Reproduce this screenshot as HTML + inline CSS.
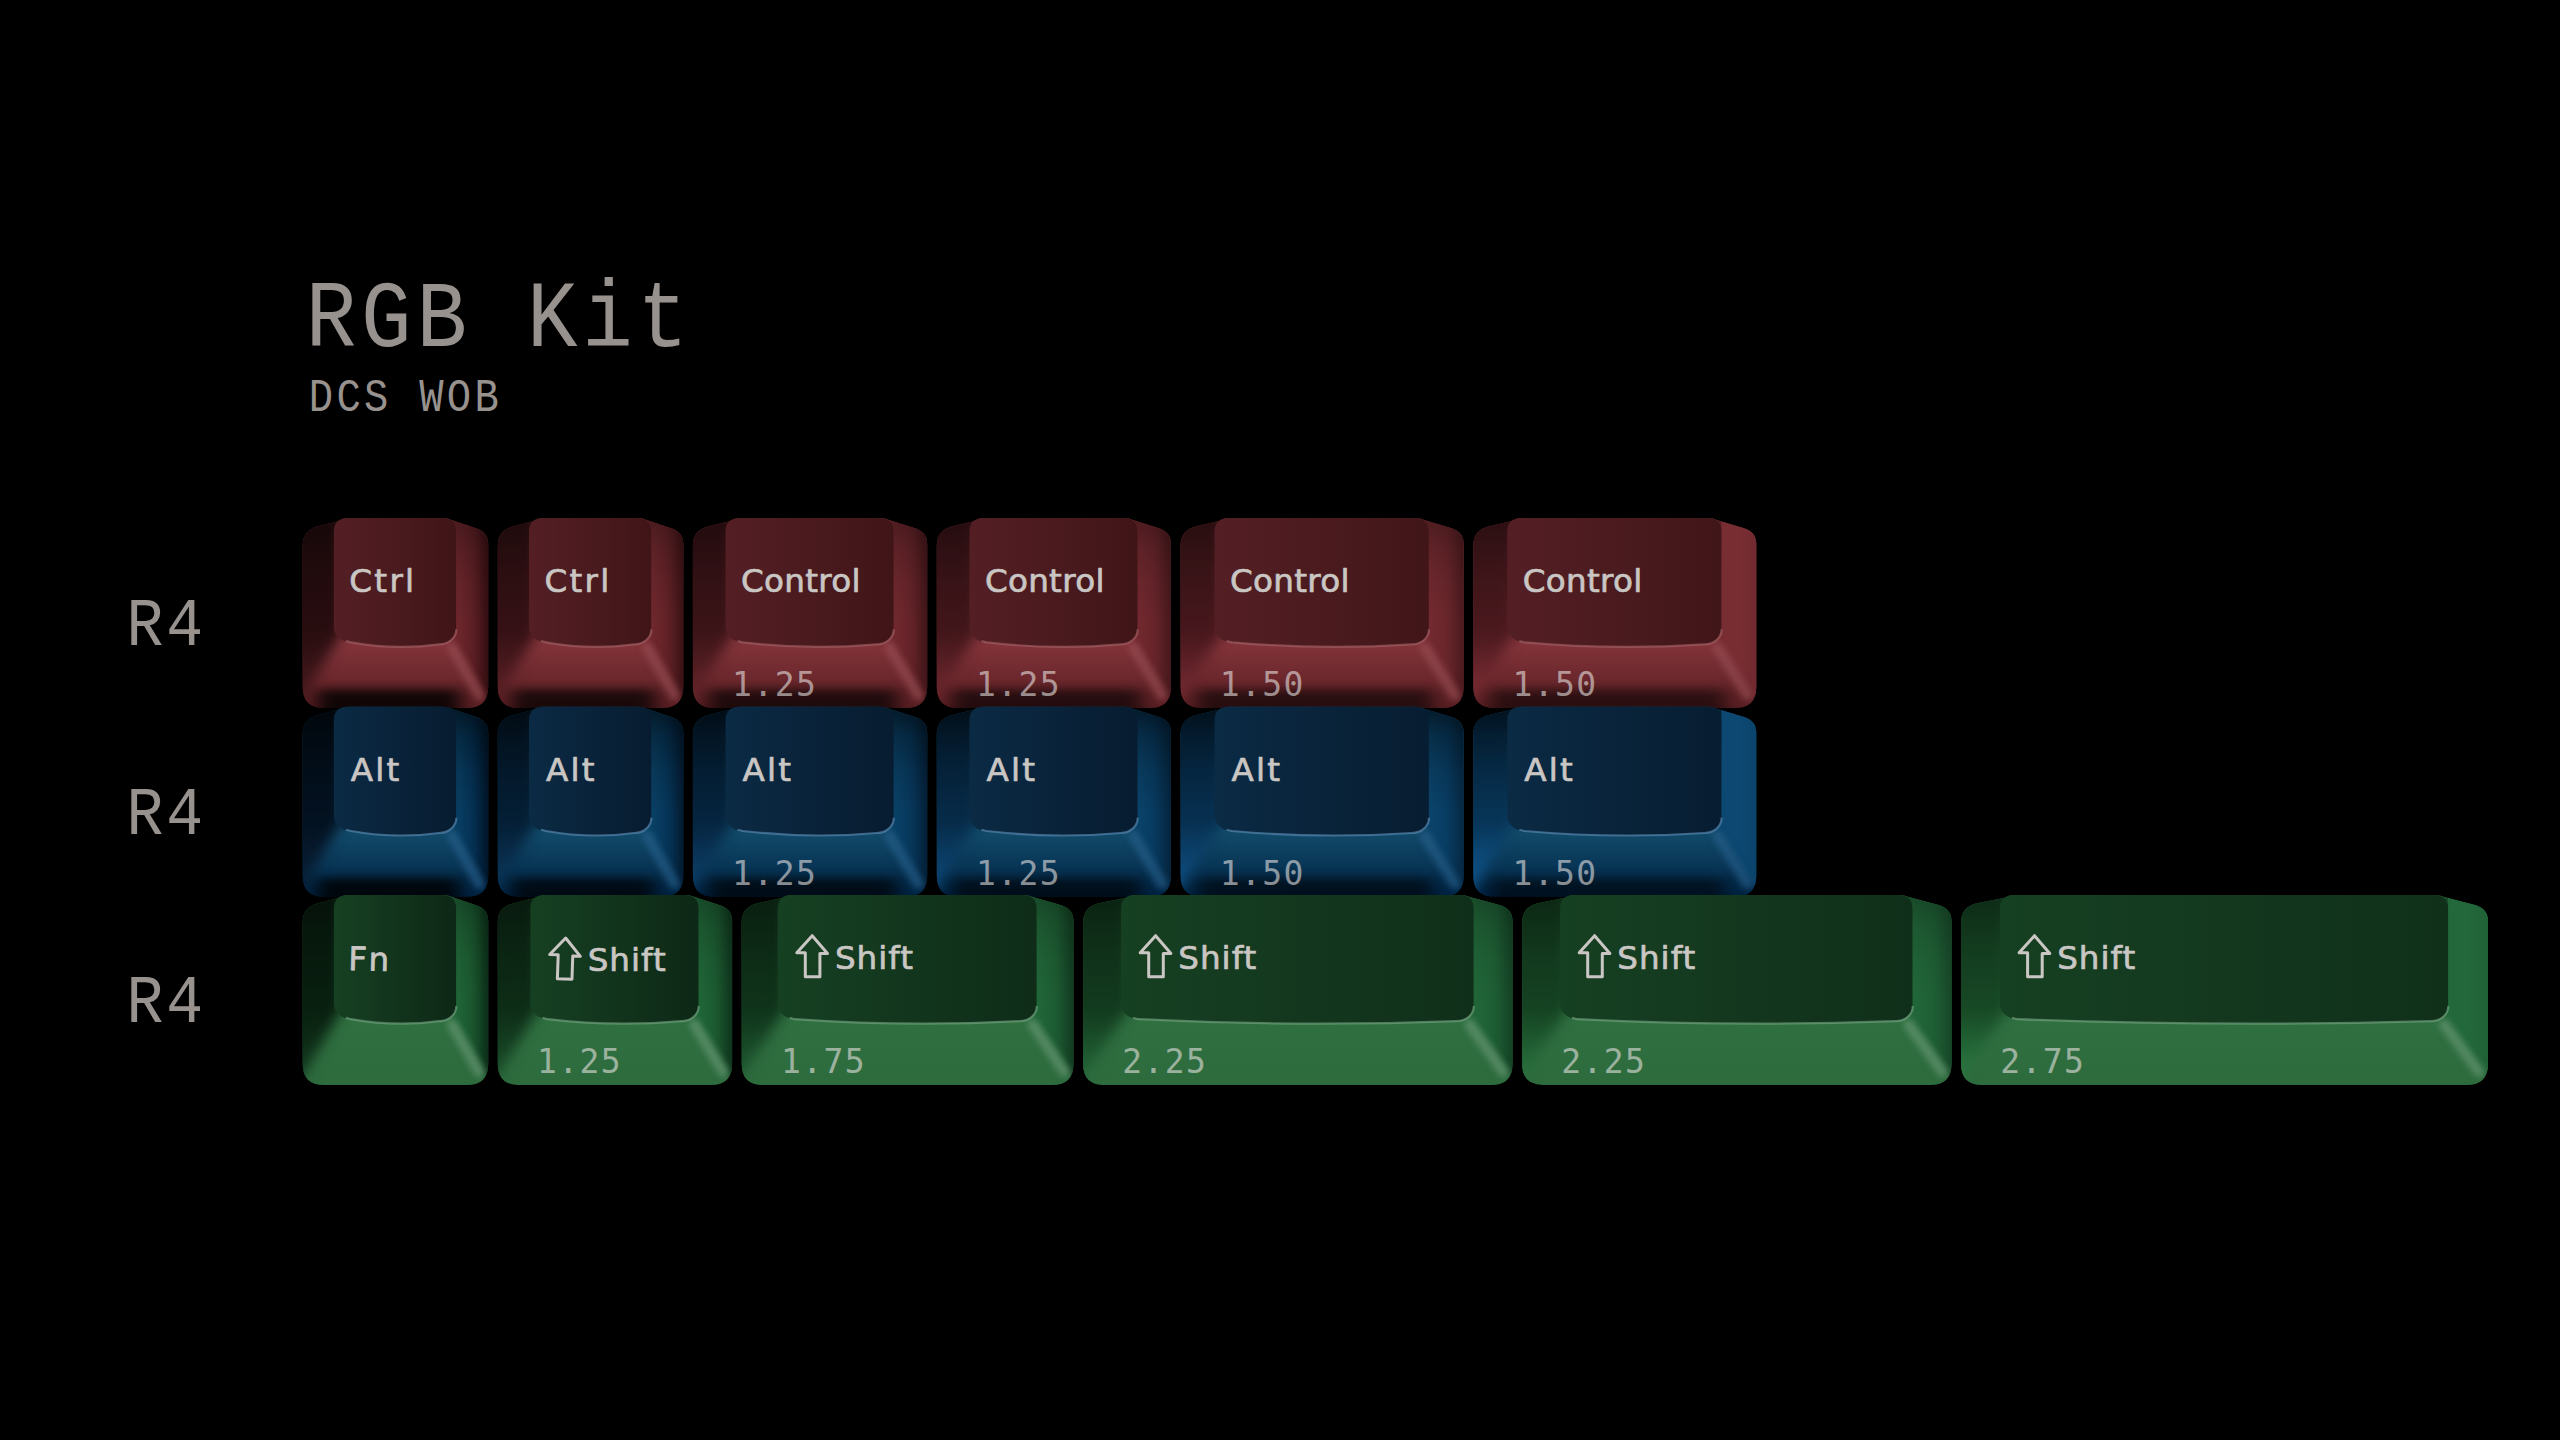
<!DOCTYPE html>
<html lang="en"><head><meta charset="utf-8"><title>RGB Kit - DCS WOB</title>
<style>
html,body{margin:0;padding:0;background:#000;width:2560px;height:1440px;overflow:hidden}
svg{display:block}
text{font-family:"Liberation Mono",monospace;fill:#98928f}
.lg{font-family:"DejaVu Sans","Liberation Sans",sans-serif;font-size:32.6px;stroke-width:.7px;fill:#c9c6c3;stroke:#c9c6c3;stroke-linejoin:round}
.sz{font-family:"DejaVu Sans Mono","Liberation Mono",monospace;font-size:33px;fill:#e6e2e0;fill-opacity:.6;letter-spacing:1.4px}
</style></head>
<body>
<svg width="2560" height="1440" viewBox="0 0 2560 1440">
<defs>
<filter id="bl" color-interpolation-filters="sRGB" x="-20%" y="-10%" width="140%" height="120%"><feGaussianBlur stdDeviation="3.5"/></filter>
<filter id="bl2" color-interpolation-filters="sRGB" x="-40%" y="-15%" width="180%" height="130%"><feGaussianBlur stdDeviation="6.5"/></filter>
<filter id="b1" color-interpolation-filters="sRGB" x="-5%" y="-50%" width="110%" height="200%"><feGaussianBlur stdDeviation="0.7"/></filter>
<filter id="b3" color-interpolation-filters="sRGB" x="-50%" y="-50%" width="200%" height="200%"><feGaussianBlur stdDeviation="3"/></filter>
<filter id="sh" color-interpolation-filters="sRGB" x="-30%" y="-60%" width="160%" height="220%"><feGaussianBlur stdDeviation="9 5"/></filter>
<linearGradient id="fr0" gradientUnits="userSpaceOnUse" x1="0" y1="646.1" x2="0" y2="708.1"><stop offset="0" stop-color="#813339"/><stop offset="1" stop-color="#581e22"/></linearGradient>
<linearGradient id="egr0" gradientUnits="userSpaceOnUse" x1="0" y1="531.1" x2="0" y2="629.1"><stop offset="0" stop-color="#a56468" stop-opacity=".12"/><stop offset=".7" stop-color="#a56468" stop-opacity=".25"/><stop offset="1" stop-color="#a56468" stop-opacity=".55"/></linearGradient>
<linearGradient id="ts0" gradientUnits="userSpaceOnUse" x1="0" y1="522.1" x2="0" y2="622.1"><stop offset="0" stop-color="#000" stop-opacity="0.3"/><stop offset=".25" stop-color="#000" stop-opacity="0.17"/><stop offset=".6" stop-color="#000" stop-opacity="0.06"/><stop offset="1" stop-color="#000" stop-opacity="0"/></linearGradient>
<linearGradient id="sg0" gradientUnits="userSpaceOnUse" x1="0" y1="676.1" x2="0" y2="708.1"><stop offset="0" stop-color="#000" stop-opacity="0"/><stop offset=".22" stop-color="#000" stop-opacity=".22"/><stop offset=".53" stop-color="#000" stop-opacity=".86"/><stop offset=".82" stop-color="#000" stop-opacity=".9"/><stop offset=".94" stop-color="#000" stop-opacity=".6"/><stop offset="1" stop-color="#000" stop-opacity=".5"/></linearGradient>
<clipPath id="c0"><path d="M302.7 546.1C302.7 534.1 308.7 528.6 319.7 526.1L338.9 520.9Q342.9 518.1 347.9 518.1L442.1 518.1Q448.1 518.1 452.1 520.3L475.2 528.1C483.2 530.4 488.2 535.1 488.2 544.1L488.2 687.1Q488.2 708.1 467.2 708.1L323.7 708.1Q302.7 708.1 302.7 687.1Z"/></clipPath>
<linearGradient id="t0" gradientUnits="userSpaceOnUse" x1="333.9" y1="0" x2="456.1" y2="0"><stop offset="0" stop-color="#541f24"/><stop offset="1" stop-color="#401518"/></linearGradient>
<linearGradient id="l0" gradientUnits="userSpaceOnUse" x1="0" y1="538.1" x2="0" y2="708.1"><stop offset="0" stop-color="#210b0d"/><stop offset=".55" stop-color="#280d0f"/><stop offset="1" stop-color="#4c1c21"/></linearGradient>
<linearGradient id="r0" gradientUnits="userSpaceOnUse" x1="456.1" y1="0" x2="488.2" y2="0"><stop offset="0" stop-color="#6e272d"/><stop offset=".55" stop-color="#5c1f24"/><stop offset="1" stop-color="#310d10"/></linearGradient>
<clipPath id="c1"><path d="M497.8 546.1C497.8 534.1 503.8 528.6 514.8 526.1L534 520.9Q538 518.1 543 518.1L637.2 518.1Q643.2 518.1 647.2 520.3L670.3 528.1C678.3 530.4 683.3 535.1 683.3 544.1L683.3 687.1Q683.3 708.1 662.3 708.1L518.8 708.1Q497.8 708.1 497.8 687.1Z"/></clipPath>
<linearGradient id="t1" gradientUnits="userSpaceOnUse" x1="529" y1="0" x2="651.2" y2="0"><stop offset="0" stop-color="#541f24"/><stop offset="1" stop-color="#401518"/></linearGradient>
<linearGradient id="l1" gradientUnits="userSpaceOnUse" x1="0" y1="538.1" x2="0" y2="708.1"><stop offset="0" stop-color="#2c0f11"/><stop offset=".55" stop-color="#351115"/><stop offset="1" stop-color="#63242a"/></linearGradient>
<linearGradient id="r1" gradientUnits="userSpaceOnUse" x1="651.2" y1="0" x2="683.3" y2="0"><stop offset="0" stop-color="#70282e"/><stop offset=".55" stop-color="#602126"/><stop offset="1" stop-color="#381114"/></linearGradient>
<clipPath id="c2"><path d="M692.9 546.1C692.9 534.1 698.9 528.6 709.9 526.1L730.6 520.9Q734.6 518.1 739.6 518.1L879.6 518.1Q885.6 518.1 889.6 520.3L914.2 528.1C922.2 530.4 927.2 535.1 927.2 544.1L927.2 687.1Q927.2 708.1 906.2 708.1L713.9 708.1Q692.9 708.1 692.9 687.1Z"/></clipPath>
<linearGradient id="t2" gradientUnits="userSpaceOnUse" x1="725.6" y1="0" x2="893.6" y2="0"><stop offset="0" stop-color="#541f24"/><stop offset="1" stop-color="#401518"/></linearGradient>
<linearGradient id="l2" gradientUnits="userSpaceOnUse" x1="0" y1="538.1" x2="0" y2="708.1"><stop offset="0" stop-color="#311014"/><stop offset=".55" stop-color="#3b1417"/><stop offset="1" stop-color="#6e282f"/></linearGradient>
<linearGradient id="r2" gradientUnits="userSpaceOnUse" x1="893.6" y1="0" x2="927.2" y2="0"><stop offset="0" stop-color="#71292f"/><stop offset=".55" stop-color="#642328"/><stop offset="1" stop-color="#3e1418"/></linearGradient>
<clipPath id="c3"><path d="M936.8 546.1C936.8 534.1 942.8 528.6 953.8 526.1L974.5 520.9Q978.5 518.1 983.5 518.1L1123.5 518.1Q1129.5 518.1 1133.5 520.3L1158 528.1C1166 530.4 1171 535.1 1171 544.1L1171 687.1Q1171 708.1 1150 708.1L957.8 708.1Q936.8 708.1 936.8 687.1Z"/></clipPath>
<linearGradient id="t3" gradientUnits="userSpaceOnUse" x1="969.5" y1="0" x2="1137.5" y2="0"><stop offset="0" stop-color="#541f24"/><stop offset="1" stop-color="#401518"/></linearGradient>
<linearGradient id="l3" gradientUnits="userSpaceOnUse" x1="0" y1="538.1" x2="0" y2="708.1"><stop offset="0" stop-color="#361216"/><stop offset=".55" stop-color="#41161a"/><stop offset="1" stop-color="#782c33"/></linearGradient>
<linearGradient id="r3" gradientUnits="userSpaceOnUse" x1="1137.5" y1="0" x2="1171" y2="0"><stop offset="0" stop-color="#72292f"/><stop offset=".55" stop-color="#66242a"/><stop offset="1" stop-color="#43171a"/></linearGradient>
<clipPath id="c4"><path d="M1180.6 546.1C1180.6 534.1 1186.6 528.6 1197.6 526.1L1219.6 520.9Q1223.6 518.1 1228.6 518.1L1414.8 518.1Q1420.8 518.1 1424.8 520.3L1450.7 528.1C1458.7 530.4 1463.7 535.1 1463.7 544.1L1463.7 687.1Q1463.7 708.1 1442.7 708.1L1201.6 708.1Q1180.6 708.1 1180.6 687.1Z"/></clipPath>
<linearGradient id="t4" gradientUnits="userSpaceOnUse" x1="1214.6" y1="0" x2="1428.8" y2="0"><stop offset="0" stop-color="#541f24"/><stop offset="1" stop-color="#411619"/></linearGradient>
<linearGradient id="l4" gradientUnits="userSpaceOnUse" x1="0" y1="538.1" x2="0" y2="708.1"><stop offset="0" stop-color="#3a1417"/><stop offset=".55" stop-color="#46171c"/><stop offset="1" stop-color="#802f37"/></linearGradient>
<linearGradient id="r4" gradientUnits="userSpaceOnUse" x1="1428.8" y1="0" x2="1463.7" y2="0"><stop offset="0" stop-color="#732a30"/><stop offset=".55" stop-color="#69262b"/><stop offset="1" stop-color="#48191d"/></linearGradient>
<clipPath id="c5"><path d="M1473.3 546.1C1473.3 534.1 1479.3 528.6 1490.3 526.1L1512.3 520.9Q1516.3 518.1 1521.3 518.1L1707.4 518.1Q1713.4 518.1 1717.4 520.3L1743.3 528.1C1751.3 530.4 1756.3 535.1 1756.3 544.1L1756.3 687.1Q1756.3 708.1 1735.3 708.1L1494.3 708.1Q1473.3 708.1 1473.3 687.1Z"/></clipPath>
<linearGradient id="t5" gradientUnits="userSpaceOnUse" x1="1507.3" y1="0" x2="1721.4" y2="0"><stop offset="0" stop-color="#541f24"/><stop offset="1" stop-color="#411619"/></linearGradient>
<linearGradient id="l5" gradientUnits="userSpaceOnUse" x1="0" y1="538.1" x2="0" y2="708.1"><stop offset="0" stop-color="#3e1519"/><stop offset=".55" stop-color="#4a191e"/><stop offset="1" stop-color="#88323a"/></linearGradient>
<linearGradient id="r5" gradientUnits="userSpaceOnUse" x1="1721.4" y1="0" x2="1756.3" y2="0"><stop offset="0" stop-color="#782d33"/><stop offset=".55" stop-color="#782d33"/><stop offset="1" stop-color="#702a2f"/></linearGradient>
<linearGradient id="fb1" gradientUnits="userSpaceOnUse" x1="0" y1="834.7" x2="0" y2="896.7"><stop offset="0" stop-color="#114969"/><stop offset="1" stop-color="#002242"/></linearGradient>
<linearGradient id="egb1" gradientUnits="userSpaceOnUse" x1="0" y1="719.7" x2="0" y2="817.7"><stop offset="0" stop-color="#5f8cb4" stop-opacity=".12"/><stop offset=".7" stop-color="#5f8cb4" stop-opacity=".25"/><stop offset="1" stop-color="#5f8cb4" stop-opacity=".55"/></linearGradient>
<linearGradient id="ts1" gradientUnits="userSpaceOnUse" x1="0" y1="710.7" x2="0" y2="810.7"><stop offset="0" stop-color="#000" stop-opacity="0.58"/><stop offset=".25" stop-color="#000" stop-opacity="0.32"/><stop offset=".6" stop-color="#000" stop-opacity="0.12"/><stop offset="1" stop-color="#000" stop-opacity="0"/></linearGradient>
<linearGradient id="sg1" gradientUnits="userSpaceOnUse" x1="0" y1="864.7" x2="0" y2="896.7"><stop offset="0" stop-color="#000" stop-opacity="0"/><stop offset=".22" stop-color="#000" stop-opacity=".22"/><stop offset=".53" stop-color="#000" stop-opacity=".86"/><stop offset=".82" stop-color="#000" stop-opacity=".9"/><stop offset=".94" stop-color="#000" stop-opacity=".6"/><stop offset="1" stop-color="#000" stop-opacity=".5"/></linearGradient>
<clipPath id="c6"><path d="M302.7 734.7C302.7 722.7 308.7 717.2 319.7 714.7L338.9 709.5Q342.9 706.7 347.9 706.7L442.1 706.7Q448.1 706.7 452.1 708.9L475.2 716.7C483.2 719 488.2 723.7 488.2 732.7L488.2 875.7Q488.2 896.7 467.2 896.7L323.7 896.7Q302.7 896.7 302.7 875.7Z"/></clipPath>
<linearGradient id="t6" gradientUnits="userSpaceOnUse" x1="333.9" y1="0" x2="456.1" y2="0"><stop offset="0" stop-color="#0b2a44"/><stop offset="1" stop-color="#071c30"/></linearGradient>
<linearGradient id="l6" gradientUnits="userSpaceOnUse" x1="0" y1="726.7" x2="0" y2="896.7"><stop offset="0" stop-color="#020e1a"/><stop offset=".55" stop-color="#031120"/><stop offset="1" stop-color="#0b243d"/></linearGradient>
<linearGradient id="r6" gradientUnits="userSpaceOnUse" x1="456.1" y1="0" x2="488.2" y2="0"><stop offset="0" stop-color="#094064"/><stop offset=".55" stop-color="#043053"/><stop offset="1" stop-color="#011325"/></linearGradient>
<clipPath id="c7"><path d="M497.8 734.7C497.8 722.7 503.8 717.2 514.8 714.7L534 709.5Q538 706.7 543 706.7L637.2 706.7Q643.2 706.7 647.2 708.9L670.3 716.7C678.3 719 683.3 723.7 683.3 732.7L683.3 875.7Q683.3 896.7 662.3 896.7L518.8 896.7Q497.8 896.7 497.8 875.7Z"/></clipPath>
<linearGradient id="t7" gradientUnits="userSpaceOnUse" x1="529" y1="0" x2="651.2" y2="0"><stop offset="0" stop-color="#0b2a44"/><stop offset="1" stop-color="#071c30"/></linearGradient>
<linearGradient id="l7" gradientUnits="userSpaceOnUse" x1="0" y1="726.7" x2="0" y2="896.7"><stop offset="0" stop-color="#04192c"/><stop offset=".55" stop-color="#041e34"/><stop offset="1" stop-color="#0e3b62"/></linearGradient>
<linearGradient id="r7" gradientUnits="userSpaceOnUse" x1="651.2" y1="0" x2="683.3" y2="0"><stop offset="0" stop-color="#0a4166"/><stop offset=".55" stop-color="#053457"/><stop offset="1" stop-color="#03192e"/></linearGradient>
<clipPath id="c8"><path d="M692.9 734.7C692.9 722.7 698.9 717.2 709.9 714.7L730.6 709.5Q734.6 706.7 739.6 706.7L879.6 706.7Q885.6 706.7 889.6 708.9L914.2 716.7C922.2 719 927.2 723.7 927.2 732.7L927.2 875.7Q927.2 896.7 906.2 896.7L713.9 896.7Q692.9 896.7 692.9 875.7Z"/></clipPath>
<linearGradient id="t8" gradientUnits="userSpaceOnUse" x1="725.6" y1="0" x2="893.6" y2="0"><stop offset="0" stop-color="#0b2a44"/><stop offset="1" stop-color="#071c30"/></linearGradient>
<linearGradient id="l8" gradientUnits="userSpaceOnUse" x1="0" y1="726.7" x2="0" y2="896.7"><stop offset="0" stop-color="#041e34"/><stop offset=".55" stop-color="#05243e"/><stop offset="1" stop-color="#0f4673"/></linearGradient>
<linearGradient id="r8" gradientUnits="userSpaceOnUse" x1="893.6" y1="0" x2="927.2" y2="0"><stop offset="0" stop-color="#0a4268"/><stop offset=".55" stop-color="#07375b"/><stop offset="1" stop-color="#041e35"/></linearGradient>
<clipPath id="c9"><path d="M936.8 734.7C936.8 722.7 942.8 717.2 953.8 714.7L974.5 709.5Q978.5 706.7 983.5 706.7L1123.5 706.7Q1129.5 706.7 1133.5 708.9L1158 716.7C1166 719 1171 723.7 1171 732.7L1171 875.7Q1171 896.7 1150 896.7L957.8 896.7Q936.8 896.7 936.8 875.7Z"/></clipPath>
<linearGradient id="t9" gradientUnits="userSpaceOnUse" x1="969.5" y1="0" x2="1137.5" y2="0"><stop offset="0" stop-color="#0b2a44"/><stop offset="1" stop-color="#071c30"/></linearGradient>
<linearGradient id="l9" gradientUnits="userSpaceOnUse" x1="0" y1="726.7" x2="0" y2="896.7"><stop offset="0" stop-color="#05233b"/><stop offset=".55" stop-color="#062a47"/><stop offset="1" stop-color="#105083"/></linearGradient>
<linearGradient id="r9" gradientUnits="userSpaceOnUse" x1="1137.5" y1="0" x2="1171" y2="0"><stop offset="0" stop-color="#0a436a"/><stop offset=".55" stop-color="#07395e"/><stop offset="1" stop-color="#05233b"/></linearGradient>
<clipPath id="c10"><path d="M1180.6 734.7C1180.6 722.7 1186.6 717.2 1197.6 714.7L1219.6 709.5Q1223.6 706.7 1228.6 706.7L1414.8 706.7Q1420.8 706.7 1424.8 708.9L1450.7 716.7C1458.7 719 1463.7 723.7 1463.7 732.7L1463.7 875.7Q1463.7 896.7 1442.7 896.7L1201.6 896.7Q1180.6 896.7 1180.6 875.7Z"/></clipPath>
<linearGradient id="t10" gradientUnits="userSpaceOnUse" x1="1214.6" y1="0" x2="1428.8" y2="0"><stop offset="0" stop-color="#0b2a44"/><stop offset="1" stop-color="#071d31"/></linearGradient>
<linearGradient id="l10" gradientUnits="userSpaceOnUse" x1="0" y1="726.7" x2="0" y2="896.7"><stop offset="0" stop-color="#052742"/><stop offset=".55" stop-color="#072f4f"/><stop offset="1" stop-color="#115890"/></linearGradient>
<linearGradient id="r10" gradientUnits="userSpaceOnUse" x1="1428.8" y1="0" x2="1463.7" y2="0"><stop offset="0" stop-color="#0b446b"/><stop offset=".55" stop-color="#083c62"/><stop offset="1" stop-color="#062741"/></linearGradient>
<clipPath id="c11"><path d="M1473.3 734.7C1473.3 722.7 1479.3 717.2 1490.3 714.7L1512.3 709.5Q1516.3 706.7 1521.3 706.7L1707.4 706.7Q1713.4 706.7 1717.4 708.9L1743.3 716.7C1751.3 719 1756.3 723.7 1756.3 732.7L1756.3 875.7Q1756.3 896.7 1735.3 896.7L1494.3 896.7Q1473.3 896.7 1473.3 875.7Z"/></clipPath>
<linearGradient id="t11" gradientUnits="userSpaceOnUse" x1="1507.3" y1="0" x2="1721.4" y2="0"><stop offset="0" stop-color="#0b2a44"/><stop offset="1" stop-color="#071d31"/></linearGradient>
<linearGradient id="l11" gradientUnits="userSpaceOnUse" x1="0" y1="726.7" x2="0" y2="896.7"><stop offset="0" stop-color="#062b48"/><stop offset=".55" stop-color="#073456"/><stop offset="1" stop-color="#13609d"/></linearGradient>
<linearGradient id="r11" gradientUnits="userSpaceOnUse" x1="1721.4" y1="0" x2="1756.3" y2="0"><stop offset="0" stop-color="#0c4872"/><stop offset=".55" stop-color="#0c4872"/><stop offset="1" stop-color="#0b436a"/></linearGradient>
<linearGradient id="fg2" gradientUnits="userSpaceOnUse" x1="0" y1="1022.9" x2="0" y2="1084.9"><stop offset="0" stop-color="#2f6f40"/><stop offset="1" stop-color="#2d6b3d"/></linearGradient>
<linearGradient id="egg2" gradientUnits="userSpaceOnUse" x1="0" y1="907.9" x2="0" y2="1005.9"><stop offset="0" stop-color="#78a584" stop-opacity=".12"/><stop offset=".7" stop-color="#78a584" stop-opacity=".25"/><stop offset="1" stop-color="#78a584" stop-opacity=".55"/></linearGradient>
<linearGradient id="ts2" gradientUnits="userSpaceOnUse" x1="0" y1="898.9" x2="0" y2="998.9"><stop offset="0" stop-color="#000" stop-opacity="0.27"/><stop offset=".25" stop-color="#000" stop-opacity="0.15"/><stop offset=".6" stop-color="#000" stop-opacity="0.05"/><stop offset="1" stop-color="#000" stop-opacity="0"/></linearGradient>
<clipPath id="c12"><path d="M302.7 922.9C302.7 910.9 308.7 905.4 319.7 902.9L338.9 897.7Q342.9 894.9 347.9 894.9L442.1 894.9Q448.1 894.9 452.1 897.1L475.2 904.9C483.2 907.2 488.2 911.9 488.2 920.9L488.2 1063.9Q488.2 1084.9 467.2 1084.9L323.7 1084.9Q302.7 1084.9 302.7 1063.9Z"/></clipPath>
<linearGradient id="t12" gradientUnits="userSpaceOnUse" x1="333.9" y1="0" x2="456.1" y2="0"><stop offset="0" stop-color="#164022"/><stop offset="1" stop-color="#0d2816"/></linearGradient>
<linearGradient id="l12" gradientUnits="userSpaceOnUse" x1="0" y1="914.9" x2="0" y2="1084.9"><stop offset="0" stop-color="#07190d"/><stop offset=".55" stop-color="#081f0f"/><stop offset="1" stop-color="#143b21"/></linearGradient>
<linearGradient id="r12" gradientUnits="userSpaceOnUse" x1="456.1" y1="0" x2="488.2" y2="0"><stop offset="0" stop-color="#206638"/><stop offset=".55" stop-color="#1a562e"/><stop offset="1" stop-color="#0a2b16"/></linearGradient>
<clipPath id="c13"><path d="M497.8 922.9C497.8 910.9 503.8 905.4 514.8 902.9L535.5 897.7Q539.5 894.9 544.5 894.9L684.5 894.9Q690.5 894.9 694.5 897.1L719.1 904.9C727.1 907.2 732.1 911.9 732.1 920.9L732.1 1063.9Q732.1 1084.9 711.1 1084.9L518.8 1084.9Q497.8 1084.9 497.8 1063.9Z"/></clipPath>
<linearGradient id="t13" gradientUnits="userSpaceOnUse" x1="530.5" y1="0" x2="698.5" y2="0"><stop offset="0" stop-color="#164022"/><stop offset="1" stop-color="#0d2816"/></linearGradient>
<linearGradient id="l13" gradientUnits="userSpaceOnUse" x1="0" y1="914.9" x2="0" y2="1084.9"><stop offset="0" stop-color="#0b2413"/><stop offset=".55" stop-color="#0d2c16"/><stop offset="1" stop-color="#1c522d"/></linearGradient>
<linearGradient id="r13" gradientUnits="userSpaceOnUse" x1="698.5" y1="0" x2="732.1" y2="0"><stop offset="0" stop-color="#206638"/><stop offset=".55" stop-color="#1b5930"/><stop offset="1" stop-color="#0e321b"/></linearGradient>
<clipPath id="c14"><path d="M741.7 922.9C741.7 910.9 747.7 905.4 758.7 902.9L782.7 897.7Q786.7 894.9 791.7 894.9L1022.6 894.9Q1028.6 894.9 1032.6 897.1L1060.5 904.9C1068.5 907.2 1073.5 911.9 1073.5 920.9L1073.5 1063.9Q1073.5 1084.9 1052.5 1084.9L762.7 1084.9Q741.7 1084.9 741.7 1063.9Z"/></clipPath>
<linearGradient id="t14" gradientUnits="userSpaceOnUse" x1="777.7" y1="0" x2="1036.6" y2="0"><stop offset="0" stop-color="#164022"/><stop offset="1" stop-color="#0e2c18"/></linearGradient>
<linearGradient id="l14" gradientUnits="userSpaceOnUse" x1="0" y1="914.9" x2="0" y2="1084.9"><stop offset="0" stop-color="#0d2a16"/><stop offset=".55" stop-color="#0f331a"/><stop offset="1" stop-color="#215f34"/></linearGradient>
<linearGradient id="r14" gradientUnits="userSpaceOnUse" x1="1036.6" y1="0" x2="1073.5" y2="0"><stop offset="0" stop-color="#216739"/><stop offset=".55" stop-color="#1d5b32"/><stop offset="1" stop-color="#10391f"/></linearGradient>
<clipPath id="c15"><path d="M1083.1 922.9C1083.1 910.9 1089.1 905.4 1100.1 902.9L1126.1 897.7Q1130.1 894.9 1135.1 894.9L1459.6 894.9Q1465.6 894.9 1469.6 897.1L1499.5 904.9C1507.5 907.2 1512.5 911.9 1512.5 920.9L1512.5 1063.9Q1512.5 1084.9 1491.5 1084.9L1104.1 1084.9Q1083.1 1084.9 1083.1 1063.9Z"/></clipPath>
<linearGradient id="t15" gradientUnits="userSpaceOnUse" x1="1121.1" y1="0" x2="1473.6" y2="0"><stop offset="0" stop-color="#164022"/><stop offset="1" stop-color="#102f1a"/></linearGradient>
<linearGradient id="l15" gradientUnits="userSpaceOnUse" x1="0" y1="914.9" x2="0" y2="1084.9"><stop offset="0" stop-color="#0f3019"/><stop offset=".55" stop-color="#123a1e"/><stop offset="1" stop-color="#256c3b"/></linearGradient>
<linearGradient id="r15" gradientUnits="userSpaceOnUse" x1="1473.6" y1="0" x2="1512.5" y2="0"><stop offset="0" stop-color="#216739"/><stop offset=".55" stop-color="#1e5e34"/><stop offset="1" stop-color="#134023"/></linearGradient>
<clipPath id="c16"><path d="M1522.1 922.9C1522.1 910.9 1528.1 905.4 1539.1 902.9L1565.1 897.7Q1569.1 894.9 1574.1 894.9L1898.5 894.9Q1904.5 894.9 1908.5 897.1L1938.5 904.9C1946.5 907.2 1951.5 911.9 1951.5 920.9L1951.5 1063.9Q1951.5 1084.9 1930.5 1084.9L1543.1 1084.9Q1522.1 1084.9 1522.1 1063.9Z"/></clipPath>
<linearGradient id="t16" gradientUnits="userSpaceOnUse" x1="1560.1" y1="0" x2="1912.5" y2="0"><stop offset="0" stop-color="#164022"/><stop offset="1" stop-color="#102f1a"/></linearGradient>
<linearGradient id="l16" gradientUnits="userSpaceOnUse" x1="0" y1="914.9" x2="0" y2="1084.9"><stop offset="0" stop-color="#11371c"/><stop offset=".55" stop-color="#154222"/><stop offset="1" stop-color="#2a7941"/></linearGradient>
<linearGradient id="r16" gradientUnits="userSpaceOnUse" x1="1912.5" y1="0" x2="1951.5" y2="0"><stop offset="0" stop-color="#216739"/><stop offset=".55" stop-color="#1f6035"/><stop offset="1" stop-color="#164627"/></linearGradient>
<clipPath id="c17"><path d="M1961 922.9C1961 910.9 1967 905.4 1978 902.9L2005 897.7Q2009 894.9 2014 894.9L2434.1 894.9Q2440.1 894.9 2444.1 897.1L2475 904.9C2483 907.2 2488 911.9 2488 920.9L2488 1063.9Q2488 1084.9 2467 1084.9L1982 1084.9Q1961 1084.9 1961 1063.9Z"/></clipPath>
<linearGradient id="t17" gradientUnits="userSpaceOnUse" x1="2000" y1="0" x2="2448.1" y2="0"><stop offset="0" stop-color="#164022"/><stop offset="1" stop-color="#10301a"/></linearGradient>
<linearGradient id="l17" gradientUnits="userSpaceOnUse" x1="0" y1="914.9" x2="0" y2="1084.9"><stop offset="0" stop-color="#133c1f"/><stop offset=".55" stop-color="#174825"/><stop offset="1" stop-color="#2e8347"/></linearGradient>
<linearGradient id="r17" gradientUnits="userSpaceOnUse" x1="2448.1" y1="0" x2="2488" y2="0"><stop offset="0" stop-color="#22683a"/><stop offset=".55" stop-color="#22683a"/><stop offset="1" stop-color="#206136"/></linearGradient>
</defs>
<rect width="2560" height="1440" fill="#000"/>
<g transform="translate(305.8 346.3) scale(0.89 1)"><text class="t1" style="font-size:94.5px;letter-spacing:5.43px">RGB Kit</text></g>
<g transform="translate(308.8 411) scale(0.89 1)"><text class="t2" style="font-size:45.5px;letter-spacing:3.71px">DCS WOB</text></g>
<g transform="translate(126.4 645) scale(0.89 1)"><text class="rw" style="font-size:69px;letter-spacing:3.43px">R4</text></g>
<g transform="translate(126.4 833.6) scale(0.89 1)"><text class="rw" style="font-size:69px;letter-spacing:3.43px">R4</text></g>
<g transform="translate(126.4 1022) scale(0.89 1)"><text class="rw" style="font-size:69px;letter-spacing:3.43px">R4</text></g>
<g clip-path="url(#c0)">
<rect x="276.7" y="492.1" width="237.5" height="242" fill="url(#fr0)"/>
<polygon points="514.2,492.1 448.1,492.1 448.1,633.6 486.2,698.1 514.2,716.1" fill="url(#r0)" filter="url(#bl)"/>
<polygon points="276.7,492.1 341.9,492.1 342.9,630.6 303.7,698.1 276.7,726.1" fill="url(#l0)" filter="url(#bl2)"/>
<line x1="452.1" y1="647.6" x2="479.2" y2="695.1" stroke="#964e54" stroke-width="10.5" stroke-linecap="round" opacity="0.65" filter="url(#b3)"/>
<rect x="302.7" y="518.1" width="185.5" height="104" fill="url(#ts0)"/>
<rect x="316.9" y="689.1" width="143.2" height="34" fill="#000" opacity="0.81" filter="url(#sh)"/>
</g>
<path d="M333.9 532.1Q333.9 518.1 347.9 518.1L442.1 518.1Q456.1 518.1 456.1 532.1L456.1 629.2A17 15 0 0 1 439.1 644.2Q395 650.1 350.9 642.2A17 15 0 0 1 333.9 627.2Z" fill="url(#t0)"/>
<path d="M345.9 641.1L350.9 642.4Q395 650.3 439.1 644.4A17 15 0 0 0 456.3 629.2" fill="none" stroke="#a56468" stroke-width="2.2" opacity="0.62" filter="url(#b1)"/>
<line x1="456.4" y1="531.1" x2="456.4" y2="629.2" stroke="url(#egr0)" stroke-width="2" filter="url(#b1)"/>
<line x1="335.4" y1="533.1" x2="335.4" y2="625.6" stroke="#813339" stroke-width="2.5" opacity="0.22" filter="url(#b1)"/>
<text class="lg" x="349.3" y="592.3" style="letter-spacing:2.3px">Ctrl</text>
<g clip-path="url(#c1)">
<rect x="471.8" y="492.1" width="237.5" height="242" fill="url(#fr0)"/>
<polygon points="709.3,492.1 643.2,492.1 643.2,633.6 681.3,698.1 709.3,716.1" fill="url(#r1)" filter="url(#bl)"/>
<polygon points="471.8,492.1 537,492.1 538,630.6 498.8,698.1 471.8,726.1" fill="url(#l1)" filter="url(#bl2)"/>
<line x1="647.2" y1="647.6" x2="674.3" y2="695.1" stroke="#964e54" stroke-width="10.5" stroke-linecap="round" opacity="0.65" filter="url(#b3)"/>
<rect x="497.8" y="518.1" width="185.5" height="104" fill="url(#ts0)"/>
<rect x="512" y="689.1" width="143.2" height="34" fill="#000" opacity="0.70" filter="url(#sh)"/>
</g>
<path d="M529 532.1Q529 518.1 543 518.1L637.2 518.1Q651.2 518.1 651.2 532.1L651.2 629.2A17 15 0 0 1 634.2 644.2Q590.1 650.1 546 642.2A17 15 0 0 1 529 627.2Z" fill="url(#t1)"/>
<path d="M541 641.1L546 642.4Q590.1 650.3 634.2 644.4A17 15 0 0 0 651.4 629.2" fill="none" stroke="#a56468" stroke-width="2.2" opacity="0.62" filter="url(#b1)"/>
<line x1="651.5" y1="531.1" x2="651.5" y2="629.2" stroke="url(#egr0)" stroke-width="2" filter="url(#b1)"/>
<line x1="530.5" y1="533.1" x2="530.5" y2="625.6" stroke="#813339" stroke-width="2.5" opacity="0.22" filter="url(#b1)"/>
<text class="lg" x="544.4" y="592.3" style="letter-spacing:2.3px">Ctrl</text>
<g clip-path="url(#c2)">
<rect x="666.9" y="492.1" width="286.3" height="242" fill="url(#fr0)"/>
<polygon points="953.2,492.1 885.6,492.1 885.6,633.6 925.2,698.1 953.2,716.1" fill="url(#r2)" filter="url(#bl)"/>
<polygon points="666.9,492.1 733.6,492.1 734.6,630.6 693.9,698.1 666.9,726.1" fill="url(#l2)" filter="url(#bl2)"/>
<line x1="889.6" y1="647.6" x2="918.2" y2="695.1" stroke="#964e54" stroke-width="10.5" stroke-linecap="round" opacity="0.65" filter="url(#b3)"/>
<rect x="692.9" y="518.1" width="234.3" height="104" fill="url(#ts0)"/>
<rect x="708.6" y="689.1" width="189" height="34" fill="#000" opacity="0.65" filter="url(#sh)"/>
</g>
<path d="M725.6 532.1Q725.6 518.1 739.6 518.1L879.6 518.1Q893.6 518.1 893.6 532.1L893.6 629.2A17 15 0 0 1 876.6 644.2Q809.6 650.1 742.6 642.2A17 15 0 0 1 725.6 627.2Z" fill="url(#t2)"/>
<path d="M737.6 641.1L742.6 642.4Q809.6 650.3 876.6 644.4A17 15 0 0 0 893.8 629.2" fill="none" stroke="#a56468" stroke-width="2.2" opacity="0.62" filter="url(#b1)"/>
<line x1="893.9" y1="531.1" x2="893.9" y2="629.2" stroke="url(#egr0)" stroke-width="2" filter="url(#b1)"/>
<line x1="727.1" y1="533.1" x2="727.1" y2="625.6" stroke="#813339" stroke-width="2.5" opacity="0.22" filter="url(#b1)"/>
<text class="lg" x="741" y="592.3" style="letter-spacing:0.3px">Control</text>
<text class="sz" x="732.1" y="696.3">1.25</text>
<g clip-path="url(#c3)">
<rect x="910.8" y="492.1" width="286.3" height="242" fill="url(#fr0)"/>
<polygon points="1197,492.1 1129.5,492.1 1129.5,633.6 1169,698.1 1197,716.1" fill="url(#r3)" filter="url(#bl)"/>
<polygon points="910.8,492.1 977.5,492.1 978.5,630.6 937.8,698.1 910.8,726.1" fill="url(#l3)" filter="url(#bl2)"/>
<line x1="1133.5" y1="647.6" x2="1162" y2="695.1" stroke="#964e54" stroke-width="10.5" stroke-linecap="round" opacity="0.65" filter="url(#b3)"/>
<rect x="936.8" y="518.1" width="234.3" height="104" fill="url(#ts0)"/>
<rect x="952.5" y="689.1" width="189" height="34" fill="#000" opacity="0.60" filter="url(#sh)"/>
</g>
<path d="M969.5 532.1Q969.5 518.1 983.5 518.1L1123.5 518.1Q1137.5 518.1 1137.5 532.1L1137.5 629.2A17 15 0 0 1 1120.5 644.2Q1053.5 650.1 986.5 642.2A17 15 0 0 1 969.5 627.2Z" fill="url(#t3)"/>
<path d="M981.5 641.1L986.5 642.4Q1053.5 650.3 1120.5 644.4A17 15 0 0 0 1137.7 629.2" fill="none" stroke="#a56468" stroke-width="2.2" opacity="0.62" filter="url(#b1)"/>
<line x1="1137.8" y1="531.1" x2="1137.8" y2="629.2" stroke="url(#egr0)" stroke-width="2" filter="url(#b1)"/>
<line x1="971" y1="533.1" x2="971" y2="625.6" stroke="#813339" stroke-width="2.5" opacity="0.22" filter="url(#b1)"/>
<text class="lg" x="984.9" y="592.3" style="letter-spacing:0.3px">Control</text>
<text class="sz" x="976" y="696.3">1.25</text>
<g clip-path="url(#c4)">
<rect x="1154.6" y="492.1" width="335" height="242" fill="url(#fr0)"/>
<polygon points="1489.7,492.1 1420.8,492.1 1420.8,633.6 1461.7,698.1 1489.7,716.1" fill="url(#r4)" filter="url(#bl)"/>
<polygon points="1154.6,492.1 1222.6,492.1 1223.6,630.6 1181.6,698.1 1154.6,726.1" fill="url(#l4)" filter="url(#bl2)"/>
<line x1="1424.8" y1="647.6" x2="1454.7" y2="695.1" stroke="#964e54" stroke-width="10.5" stroke-linecap="round" opacity="0.65" filter="url(#b3)"/>
<rect x="1180.6" y="518.1" width="283" height="104" fill="url(#ts0)"/>
<rect x="1197.6" y="689.1" width="235.1" height="34" fill="#000" opacity="0.56" filter="url(#sh)"/>
</g>
<path d="M1214.6 532.1Q1214.6 518.1 1228.6 518.1L1414.8 518.1Q1428.8 518.1 1428.8 532.1L1428.8 629.2A17 15 0 0 1 1411.8 644.2Q1321.7 650.1 1231.6 642.2A17 15 0 0 1 1214.6 627.2Z" fill="url(#t4)"/>
<path d="M1226.6 641.1L1231.6 642.4Q1321.7 650.3 1411.8 644.4A17 15 0 0 0 1429 629.2" fill="none" stroke="#a56468" stroke-width="2.2" opacity="0.62" filter="url(#b1)"/>
<line x1="1429.1" y1="531.1" x2="1429.1" y2="629.2" stroke="url(#egr0)" stroke-width="2" filter="url(#b1)"/>
<line x1="1216.1" y1="533.1" x2="1216.1" y2="625.6" stroke="#813339" stroke-width="2.5" opacity="0.22" filter="url(#b1)"/>
<text class="lg" x="1230" y="592.3" style="letter-spacing:0.3px">Control</text>
<text class="sz" x="1219.8" y="696.3">1.50</text>
<g clip-path="url(#c5)">
<rect x="1447.3" y="492.1" width="335" height="242" fill="url(#fr0)"/>
<polygon points="1782.3,492.1 1713.4,492.1 1713.4,633.6 1754.3,698.1 1782.3,716.1" fill="url(#r5)" filter="url(#bl)"/>
<polygon points="1447.3,492.1 1515.3,492.1 1516.3,630.6 1474.3,698.1 1447.3,726.1" fill="url(#l5)" filter="url(#bl2)"/>
<line x1="1717.4" y1="647.6" x2="1747.3" y2="695.1" stroke="#964e54" stroke-width="10.5" stroke-linecap="round" opacity="0.65" filter="url(#b3)"/>
<rect x="1473.3" y="518.1" width="248.1" height="104" fill="url(#ts0)"/>
<rect x="1490.3" y="689.1" width="235.1" height="34" fill="#000" opacity="0.52" filter="url(#sh)"/>
</g>
<path d="M1507.3 532.1Q1507.3 518.1 1521.3 518.1L1707.4 518.1Q1721.4 518.1 1721.4 532.1L1721.4 629.2A17 15 0 0 1 1704.4 644.2Q1614.4 650.1 1524.3 642.2A17 15 0 0 1 1507.3 627.2Z" fill="url(#t5)"/>
<path d="M1519.3 641.1L1524.3 642.4Q1614.4 650.3 1704.4 644.4A17 15 0 0 0 1721.6 629.2" fill="none" stroke="#a56468" stroke-width="2.2" opacity="0.62" filter="url(#b1)"/>
<line x1="1721.7" y1="531.1" x2="1721.7" y2="629.2" stroke="url(#egr0)" stroke-width="2" filter="url(#b1)"/>
<line x1="1508.8" y1="533.1" x2="1508.8" y2="625.6" stroke="#813339" stroke-width="2.5" opacity="0.22" filter="url(#b1)"/>
<text class="lg" x="1522.7" y="592.3" style="letter-spacing:0.3px">Control</text>
<text class="sz" x="1512.5" y="696.3">1.50</text>
<g clip-path="url(#c6)">
<rect x="276.7" y="680.7" width="237.5" height="242" fill="url(#fb1)"/>
<polygon points="514.2,680.7 448.1,680.7 448.1,822.2 486.2,886.7 514.2,904.7" fill="url(#r6)" filter="url(#bl)"/>
<polygon points="276.7,680.7 341.9,680.7 342.9,819.2 303.7,886.7 276.7,914.7" fill="url(#l6)" filter="url(#bl2)"/>
<line x1="452.1" y1="836.2" x2="479.2" y2="883.7" stroke="#28608c" stroke-width="10.5" stroke-linecap="round" opacity="0.65" filter="url(#b3)"/>
<rect x="302.7" y="706.7" width="185.5" height="104" fill="url(#ts1)"/>
<rect x="316.9" y="877.7" width="143.2" height="34" fill="#000" opacity="0.81" filter="url(#sh)"/>
</g>
<path d="M333.9 720.7Q333.9 706.7 347.9 706.7L442.1 706.7Q456.1 706.7 456.1 720.7L456.1 817.8A17 15 0 0 1 439.1 832.8Q395 838.7 350.9 830.8A17 15 0 0 1 333.9 815.8Z" fill="url(#t6)"/>
<path d="M345.9 829.7L350.9 831Q395 838.9 439.1 833A17 15 0 0 0 456.3 817.8" fill="none" stroke="#5f8cb4" stroke-width="2.2" opacity="0.62" filter="url(#b1)"/>
<line x1="456.4" y1="719.7" x2="456.4" y2="817.8" stroke="url(#egb1)" stroke-width="2" filter="url(#b1)"/>
<line x1="335.4" y1="721.7" x2="335.4" y2="814.2" stroke="#114969" stroke-width="2.5" opacity="0.22" filter="url(#b1)"/>
<text class="lg" x="350.8" y="780.9" style="letter-spacing:2.2px">Alt</text>
<g clip-path="url(#c7)">
<rect x="471.8" y="680.7" width="237.5" height="242" fill="url(#fb1)"/>
<polygon points="709.3,680.7 643.2,680.7 643.2,822.2 681.3,886.7 709.3,904.7" fill="url(#r7)" filter="url(#bl)"/>
<polygon points="471.8,680.7 537,680.7 538,819.2 498.8,886.7 471.8,914.7" fill="url(#l7)" filter="url(#bl2)"/>
<line x1="647.2" y1="836.2" x2="674.3" y2="883.7" stroke="#28608c" stroke-width="10.5" stroke-linecap="round" opacity="0.65" filter="url(#b3)"/>
<rect x="497.8" y="706.7" width="185.5" height="104" fill="url(#ts1)"/>
<rect x="512" y="877.7" width="143.2" height="34" fill="#000" opacity="0.70" filter="url(#sh)"/>
</g>
<path d="M529 720.7Q529 706.7 543 706.7L637.2 706.7Q651.2 706.7 651.2 720.7L651.2 817.8A17 15 0 0 1 634.2 832.8Q590.1 838.7 546 830.8A17 15 0 0 1 529 815.8Z" fill="url(#t7)"/>
<path d="M541 829.7L546 831Q590.1 838.9 634.2 833A17 15 0 0 0 651.4 817.8" fill="none" stroke="#5f8cb4" stroke-width="2.2" opacity="0.62" filter="url(#b1)"/>
<line x1="651.5" y1="719.7" x2="651.5" y2="817.8" stroke="url(#egb1)" stroke-width="2" filter="url(#b1)"/>
<line x1="530.5" y1="721.7" x2="530.5" y2="814.2" stroke="#114969" stroke-width="2.5" opacity="0.22" filter="url(#b1)"/>
<text class="lg" x="545.9" y="780.9" style="letter-spacing:2.2px">Alt</text>
<g clip-path="url(#c8)">
<rect x="666.9" y="680.7" width="286.3" height="242" fill="url(#fb1)"/>
<polygon points="953.2,680.7 885.6,680.7 885.6,822.2 925.2,886.7 953.2,904.7" fill="url(#r8)" filter="url(#bl)"/>
<polygon points="666.9,680.7 733.6,680.7 734.6,819.2 693.9,886.7 666.9,914.7" fill="url(#l8)" filter="url(#bl2)"/>
<line x1="889.6" y1="836.2" x2="918.2" y2="883.7" stroke="#28608c" stroke-width="10.5" stroke-linecap="round" opacity="0.65" filter="url(#b3)"/>
<rect x="692.9" y="706.7" width="234.3" height="104" fill="url(#ts1)"/>
<rect x="708.6" y="877.7" width="189" height="34" fill="#000" opacity="0.65" filter="url(#sh)"/>
</g>
<path d="M725.6 720.7Q725.6 706.7 739.6 706.7L879.6 706.7Q893.6 706.7 893.6 720.7L893.6 817.8A17 15 0 0 1 876.6 832.8Q809.6 838.7 742.6 830.8A17 15 0 0 1 725.6 815.8Z" fill="url(#t8)"/>
<path d="M737.6 829.7L742.6 831Q809.6 838.9 876.6 833A17 15 0 0 0 893.8 817.8" fill="none" stroke="#5f8cb4" stroke-width="2.2" opacity="0.62" filter="url(#b1)"/>
<line x1="893.9" y1="719.7" x2="893.9" y2="817.8" stroke="url(#egb1)" stroke-width="2" filter="url(#b1)"/>
<line x1="727.1" y1="721.7" x2="727.1" y2="814.2" stroke="#114969" stroke-width="2.5" opacity="0.22" filter="url(#b1)"/>
<text class="lg" x="742.5" y="780.9" style="letter-spacing:2.2px">Alt</text>
<text class="sz" x="732.1" y="884.9">1.25</text>
<g clip-path="url(#c9)">
<rect x="910.8" y="680.7" width="286.3" height="242" fill="url(#fb1)"/>
<polygon points="1197,680.7 1129.5,680.7 1129.5,822.2 1169,886.7 1197,904.7" fill="url(#r9)" filter="url(#bl)"/>
<polygon points="910.8,680.7 977.5,680.7 978.5,819.2 937.8,886.7 910.8,914.7" fill="url(#l9)" filter="url(#bl2)"/>
<line x1="1133.5" y1="836.2" x2="1162" y2="883.7" stroke="#28608c" stroke-width="10.5" stroke-linecap="round" opacity="0.65" filter="url(#b3)"/>
<rect x="936.8" y="706.7" width="234.3" height="104" fill="url(#ts1)"/>
<rect x="952.5" y="877.7" width="189" height="34" fill="#000" opacity="0.60" filter="url(#sh)"/>
</g>
<path d="M969.5 720.7Q969.5 706.7 983.5 706.7L1123.5 706.7Q1137.5 706.7 1137.5 720.7L1137.5 817.8A17 15 0 0 1 1120.5 832.8Q1053.5 838.7 986.5 830.8A17 15 0 0 1 969.5 815.8Z" fill="url(#t9)"/>
<path d="M981.5 829.7L986.5 831Q1053.5 838.9 1120.5 833A17 15 0 0 0 1137.7 817.8" fill="none" stroke="#5f8cb4" stroke-width="2.2" opacity="0.62" filter="url(#b1)"/>
<line x1="1137.8" y1="719.7" x2="1137.8" y2="817.8" stroke="url(#egb1)" stroke-width="2" filter="url(#b1)"/>
<line x1="971" y1="721.7" x2="971" y2="814.2" stroke="#114969" stroke-width="2.5" opacity="0.22" filter="url(#b1)"/>
<text class="lg" x="986.4" y="780.9" style="letter-spacing:2.2px">Alt</text>
<text class="sz" x="976" y="884.9">1.25</text>
<g clip-path="url(#c10)">
<rect x="1154.6" y="680.7" width="335" height="242" fill="url(#fb1)"/>
<polygon points="1489.7,680.7 1420.8,680.7 1420.8,822.2 1461.7,886.7 1489.7,904.7" fill="url(#r10)" filter="url(#bl)"/>
<polygon points="1154.6,680.7 1222.6,680.7 1223.6,819.2 1181.6,886.7 1154.6,914.7" fill="url(#l10)" filter="url(#bl2)"/>
<line x1="1424.8" y1="836.2" x2="1454.7" y2="883.7" stroke="#28608c" stroke-width="10.5" stroke-linecap="round" opacity="0.65" filter="url(#b3)"/>
<rect x="1180.6" y="706.7" width="283" height="104" fill="url(#ts1)"/>
<rect x="1197.6" y="877.7" width="235.1" height="34" fill="#000" opacity="0.56" filter="url(#sh)"/>
</g>
<path d="M1214.6 720.7Q1214.6 706.7 1228.6 706.7L1414.8 706.7Q1428.8 706.7 1428.8 720.7L1428.8 817.8A17 15 0 0 1 1411.8 832.8Q1321.7 838.7 1231.6 830.8A17 15 0 0 1 1214.6 815.8Z" fill="url(#t10)"/>
<path d="M1226.6 829.7L1231.6 831Q1321.7 838.9 1411.8 833A17 15 0 0 0 1429 817.8" fill="none" stroke="#5f8cb4" stroke-width="2.2" opacity="0.62" filter="url(#b1)"/>
<line x1="1429.1" y1="719.7" x2="1429.1" y2="817.8" stroke="url(#egb1)" stroke-width="2" filter="url(#b1)"/>
<line x1="1216.1" y1="721.7" x2="1216.1" y2="814.2" stroke="#114969" stroke-width="2.5" opacity="0.22" filter="url(#b1)"/>
<text class="lg" x="1231.5" y="780.9" style="letter-spacing:2.2px">Alt</text>
<text class="sz" x="1219.8" y="884.9">1.50</text>
<g clip-path="url(#c11)">
<rect x="1447.3" y="680.7" width="335" height="242" fill="url(#fb1)"/>
<polygon points="1782.3,680.7 1713.4,680.7 1713.4,822.2 1754.3,886.7 1782.3,904.7" fill="url(#r11)" filter="url(#bl)"/>
<polygon points="1447.3,680.7 1515.3,680.7 1516.3,819.2 1474.3,886.7 1447.3,914.7" fill="url(#l11)" filter="url(#bl2)"/>
<line x1="1717.4" y1="836.2" x2="1747.3" y2="883.7" stroke="#28608c" stroke-width="10.5" stroke-linecap="round" opacity="0.65" filter="url(#b3)"/>
<rect x="1473.3" y="706.7" width="248.1" height="104" fill="url(#ts1)"/>
<rect x="1490.3" y="877.7" width="235.1" height="34" fill="#000" opacity="0.52" filter="url(#sh)"/>
</g>
<path d="M1507.3 720.7Q1507.3 706.7 1521.3 706.7L1707.4 706.7Q1721.4 706.7 1721.4 720.7L1721.4 817.8A17 15 0 0 1 1704.4 832.8Q1614.4 838.7 1524.3 830.8A17 15 0 0 1 1507.3 815.8Z" fill="url(#t11)"/>
<path d="M1519.3 829.7L1524.3 831Q1614.4 838.9 1704.4 833A17 15 0 0 0 1721.6 817.8" fill="none" stroke="#5f8cb4" stroke-width="2.2" opacity="0.62" filter="url(#b1)"/>
<line x1="1721.7" y1="719.7" x2="1721.7" y2="817.8" stroke="url(#egb1)" stroke-width="2" filter="url(#b1)"/>
<line x1="1508.8" y1="721.7" x2="1508.8" y2="814.2" stroke="#114969" stroke-width="2.5" opacity="0.22" filter="url(#b1)"/>
<text class="lg" x="1524.2" y="780.9" style="letter-spacing:2.2px">Alt</text>
<text class="sz" x="1512.5" y="884.9">1.50</text>
<g clip-path="url(#c12)">
<rect x="276.7" y="868.9" width="237.5" height="242" fill="url(#fg2)"/>
<polygon points="514.2,868.9 448.1,868.9 448.1,1010.4 486.2,1074.9 514.2,1092.9" fill="url(#r12)" filter="url(#bl)"/>
<polygon points="276.7,868.9 341.9,868.9 342.9,1007.4 303.7,1074.9 276.7,1102.9" fill="url(#l12)" filter="url(#bl2)"/>
<line x1="452.1" y1="1024.4" x2="479.2" y2="1071.9" stroke="#699876" stroke-width="10.5" stroke-linecap="round" opacity="0.65" filter="url(#b3)"/>
<rect x="302.7" y="894.9" width="185.5" height="104" fill="url(#ts2)"/>
</g>
<path d="M333.9 908.9Q333.9 894.9 347.9 894.9L442.1 894.9Q456.1 894.9 456.1 908.9L456.1 1006A17 15 0 0 1 439.1 1021Q395 1026.9 350.9 1019A17 15 0 0 1 333.9 1004Z" fill="url(#t12)"/>
<path d="M345.9 1017.9L350.9 1019.2Q395 1027.1 439.1 1021.2A17 15 0 0 0 456.3 1006" fill="none" stroke="#78a584" stroke-width="2.2" opacity="0.62" filter="url(#b1)"/>
<line x1="456.4" y1="907.9" x2="456.4" y2="1006" stroke="url(#egg2)" stroke-width="2" filter="url(#b1)"/>
<line x1="335.4" y1="909.9" x2="335.4" y2="1002.4" stroke="#2f6f40" stroke-width="2.5" opacity="0.22" filter="url(#b1)"/>
<text class="lg" x="348.1" y="970.1" style="letter-spacing:1.4px" transform="rotate(1.5 351.9 970.9)">Fn</text>
<g clip-path="url(#c13)">
<rect x="471.8" y="868.9" width="286.3" height="242" fill="url(#fg2)"/>
<polygon points="758.1,868.9 690.5,868.9 690.5,1010.4 730.1,1074.9 758.1,1092.9" fill="url(#r13)" filter="url(#bl)"/>
<polygon points="471.8,868.9 538.5,868.9 539.5,1007.4 498.8,1074.9 471.8,1102.9" fill="url(#l13)" filter="url(#bl2)"/>
<line x1="694.5" y1="1024.4" x2="723.1" y2="1071.9" stroke="#699876" stroke-width="10.5" stroke-linecap="round" opacity="0.65" filter="url(#b3)"/>
<rect x="497.8" y="894.9" width="234.3" height="104" fill="url(#ts2)"/>
</g>
<path d="M530.5 908.9Q530.5 894.9 544.5 894.9L684.5 894.9Q698.5 894.9 698.5 908.9L698.5 1006A17 15 0 0 1 681.5 1021Q614.5 1026.9 547.5 1019A17 15 0 0 1 530.5 1004Z" fill="url(#t13)"/>
<path d="M542.5 1017.9L547.5 1019.2Q614.5 1027.1 681.5 1021.2A17 15 0 0 0 698.7 1006" fill="none" stroke="#78a584" stroke-width="2.2" opacity="0.62" filter="url(#b1)"/>
<line x1="698.8" y1="907.9" x2="698.8" y2="1006" stroke="url(#egg2)" stroke-width="2" filter="url(#b1)"/>
<line x1="532" y1="909.9" x2="532" y2="1002.4" stroke="#2f6f40" stroke-width="2.5" opacity="0.22" filter="url(#b1)"/>
<path d="M565 938L580.3 955.8L572.7 955.8L572.7 979L558.1 979L558.1 955.1L549.6 955.1Z" fill="none" stroke="#c9c6c3" stroke-width="3" stroke-linejoin="round" transform="rotate(2 565.1 957.9)"/>
<text class="lg" x="587.7" y="971" style="letter-spacing:1.0px">Shift</text>
<text class="sz" x="537" y="1073.1">1.25</text>
<g clip-path="url(#c14)">
<rect x="715.7" y="868.9" width="383.8" height="242" fill="url(#fg2)"/>
<polygon points="1099.5,868.9 1028.6,868.9 1028.6,1010.4 1071.5,1074.9 1099.5,1092.9" fill="url(#r14)" filter="url(#bl)"/>
<polygon points="715.7,868.9 785.7,868.9 786.7,1007.4 742.7,1074.9 715.7,1102.9" fill="url(#l14)" filter="url(#bl2)"/>
<line x1="1032.6" y1="1024.4" x2="1064.5" y2="1071.9" stroke="#699876" stroke-width="10.5" stroke-linecap="round" opacity="0.65" filter="url(#b3)"/>
<rect x="741.7" y="894.9" width="331.8" height="104" fill="url(#ts2)"/>
</g>
<path d="M777.7 908.9Q777.7 894.9 791.7 894.9L1022.6 894.9Q1036.6 894.9 1036.6 908.9L1036.6 1006A17 15 0 0 1 1019.6 1021Q907.1 1026.9 794.7 1019A17 15 0 0 1 777.7 1004Z" fill="url(#t14)"/>
<path d="M789.7 1017.9L794.7 1019.2Q907.1 1027.1 1019.6 1021.2A17 15 0 0 0 1036.8 1006" fill="none" stroke="#78a584" stroke-width="2.2" opacity="0.62" filter="url(#b1)"/>
<line x1="1036.9" y1="907.9" x2="1036.9" y2="1006" stroke="url(#egg2)" stroke-width="2" filter="url(#b1)"/>
<line x1="779.2" y1="909.9" x2="779.2" y2="1002.4" stroke="#2f6f40" stroke-width="2.5" opacity="0.22" filter="url(#b1)"/>
<path d="M812.2 935.7L827.5 953.5L819.9 953.5L819.9 976.7L805.3 976.7L805.3 952.8L796.8 952.8Z" fill="none" stroke="#c9c6c3" stroke-width="3" stroke-linejoin="round"/>
<text class="lg" x="834.9" y="968.7" style="letter-spacing:1.0px">Shift</text>
<text class="sz" x="780.9" y="1073.1">1.75</text>
<g clip-path="url(#c15)">
<rect x="1057.1" y="868.9" width="481.4" height="242" fill="url(#fg2)"/>
<polygon points="1538.5,868.9 1465.6,868.9 1465.6,1010.4 1510.5,1074.9 1538.5,1092.9" fill="url(#r15)" filter="url(#bl)"/>
<polygon points="1057.1,868.9 1129.1,868.9 1130.1,1007.4 1084.1,1074.9 1057.1,1102.9" fill="url(#l15)" filter="url(#bl2)"/>
<line x1="1469.6" y1="1024.4" x2="1503.5" y2="1071.9" stroke="#699876" stroke-width="10.5" stroke-linecap="round" opacity="0.65" filter="url(#b3)"/>
<rect x="1083.1" y="894.9" width="429.4" height="104" fill="url(#ts2)"/>
</g>
<path d="M1121.1 908.9Q1121.1 894.9 1135.1 894.9L1459.6 894.9Q1473.6 894.9 1473.6 908.9L1473.6 1006A17 15 0 0 1 1456.6 1021Q1297.3 1026.9 1138.1 1019A17 15 0 0 1 1121.1 1004Z" fill="url(#t15)"/>
<path d="M1133.1 1017.9L1138.1 1019.2Q1297.3 1027.1 1456.6 1021.2A17 15 0 0 0 1473.8 1006" fill="none" stroke="#78a584" stroke-width="2.2" opacity="0.62" filter="url(#b1)"/>
<line x1="1473.9" y1="907.9" x2="1473.9" y2="1006" stroke="url(#egg2)" stroke-width="2" filter="url(#b1)"/>
<line x1="1122.6" y1="909.9" x2="1122.6" y2="1002.4" stroke="#2f6f40" stroke-width="2.5" opacity="0.22" filter="url(#b1)"/>
<path d="M1155.6 935.7L1170.9 953.5L1163.3 953.5L1163.3 976.7L1148.7 976.7L1148.7 952.8L1140.2 952.8Z" fill="none" stroke="#c9c6c3" stroke-width="3" stroke-linejoin="round"/>
<text class="lg" x="1178.3" y="968.7" style="letter-spacing:1.0px">Shift</text>
<text class="sz" x="1122.3" y="1073.1">2.25</text>
<g clip-path="url(#c16)">
<rect x="1496.1" y="868.9" width="481.4" height="242" fill="url(#fg2)"/>
<polygon points="1977.5,868.9 1904.5,868.9 1904.5,1010.4 1949.5,1074.9 1977.5,1092.9" fill="url(#r16)" filter="url(#bl)"/>
<polygon points="1496.1,868.9 1568.1,868.9 1569.1,1007.4 1523.1,1074.9 1496.1,1102.9" fill="url(#l16)" filter="url(#bl2)"/>
<line x1="1908.5" y1="1024.4" x2="1942.5" y2="1071.9" stroke="#699876" stroke-width="10.5" stroke-linecap="round" opacity="0.65" filter="url(#b3)"/>
<rect x="1522.1" y="894.9" width="429.4" height="104" fill="url(#ts2)"/>
</g>
<path d="M1560.1 908.9Q1560.1 894.9 1574.1 894.9L1898.5 894.9Q1912.5 894.9 1912.5 908.9L1912.5 1006A17 15 0 0 1 1895.5 1021Q1736.3 1026.9 1577.1 1019A17 15 0 0 1 1560.1 1004Z" fill="url(#t16)"/>
<path d="M1572.1 1017.9L1577.1 1019.2Q1736.3 1027.1 1895.5 1021.2A17 15 0 0 0 1912.8 1006" fill="none" stroke="#78a584" stroke-width="2.2" opacity="0.62" filter="url(#b1)"/>
<line x1="1912.8" y1="907.9" x2="1912.8" y2="1006" stroke="url(#egg2)" stroke-width="2" filter="url(#b1)"/>
<line x1="1561.6" y1="909.9" x2="1561.6" y2="1002.4" stroke="#2f6f40" stroke-width="2.5" opacity="0.22" filter="url(#b1)"/>
<path d="M1594.6 935.7L1609.9 953.5L1602.3 953.5L1602.3 976.7L1587.7 976.7L1587.7 952.8L1579.2 952.8Z" fill="none" stroke="#c9c6c3" stroke-width="3" stroke-linejoin="round"/>
<text class="lg" x="1617.3" y="968.7" style="letter-spacing:1.0px">Shift</text>
<text class="sz" x="1561.3" y="1073.1">2.25</text>
<g clip-path="url(#c17)">
<rect x="1935" y="868.9" width="578.9" height="242" fill="url(#fg2)"/>
<polygon points="2514,868.9 2440.1,868.9 2440.1,1010.4 2486,1074.9 2514,1092.9" fill="url(#r17)" filter="url(#bl)"/>
<polygon points="1935,868.9 2008,868.9 2009,1007.4 1962,1074.9 1935,1102.9" fill="url(#l17)" filter="url(#bl2)"/>
<line x1="2444.1" y1="1024.4" x2="2479" y2="1071.9" stroke="#699876" stroke-width="10.5" stroke-linecap="round" opacity="0.65" filter="url(#b3)"/>
<rect x="1961" y="894.9" width="487" height="104" fill="url(#ts2)"/>
</g>
<path d="M2000 908.9Q2000 894.9 2014 894.9L2434.1 894.9Q2448.1 894.9 2448.1 908.9L2448.1 1006A17 15 0 0 1 2431.1 1021Q2224.1 1026.9 2017 1019A17 15 0 0 1 2000 1004Z" fill="url(#t17)"/>
<path d="M2012 1017.9L2017 1019.2Q2224.1 1027.1 2431.1 1021.2A17 15 0 0 0 2448.3 1006" fill="none" stroke="#78a584" stroke-width="2.2" opacity="0.62" filter="url(#b1)"/>
<line x1="2448.4" y1="907.9" x2="2448.4" y2="1006" stroke="url(#egg2)" stroke-width="2" filter="url(#b1)"/>
<line x1="2001.5" y1="909.9" x2="2001.5" y2="1002.4" stroke="#2f6f40" stroke-width="2.5" opacity="0.22" filter="url(#b1)"/>
<path d="M2034.5 935.7L2049.8 953.5L2042.2 953.5L2042.2 976.7L2027.6 976.7L2027.6 952.8L2019.1 952.8Z" fill="none" stroke="#c9c6c3" stroke-width="3" stroke-linejoin="round"/>
<text class="lg" x="2057.2" y="968.7" style="letter-spacing:1.0px">Shift</text>
<text class="sz" x="2000.2" y="1073.1">2.75</text>
</svg>
</body></html>
